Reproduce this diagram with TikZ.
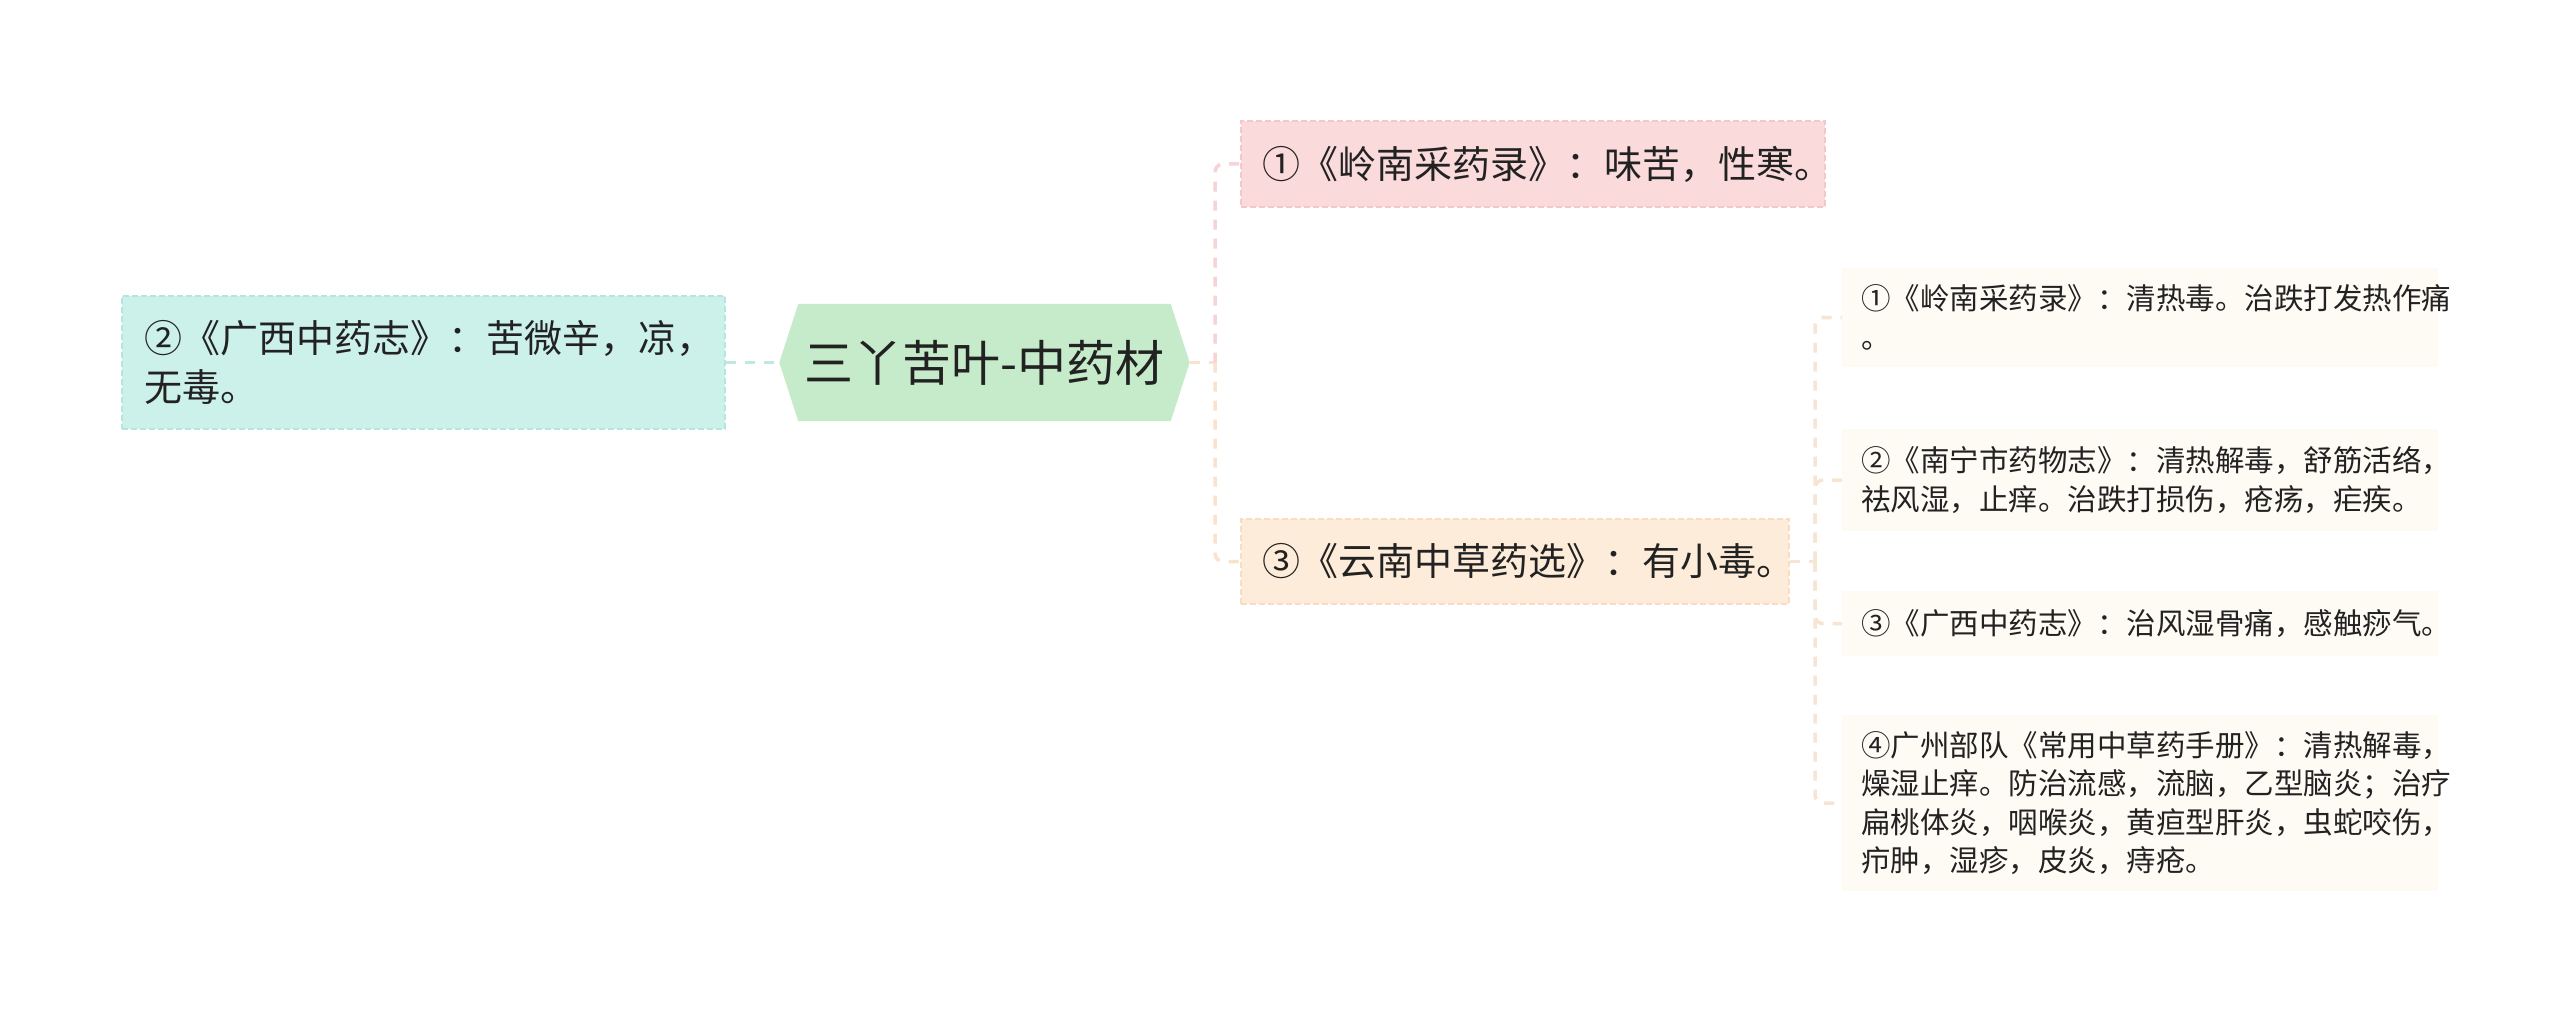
\documentclass[tikz,border=0pt]{standalone}
\usepackage{fontspec}
\setmainfont{Noto Sans CJK SC}
\usetikzlibrary{backgrounds}
\definecolor{txt}{HTML}{222222}
\definecolor{lfill}{HTML}{CCF0EA}
\definecolor{lborder}{HTML}{B5E6DD}
\definecolor{cfill}{HTML}{C6EBCA}
\definecolor{tfill}{HTML}{FADADB}
\definecolor{tborder}{HTML}{F4C8CA}
\definecolor{bfill}{HTML}{FDECDA}
\definecolor{bborder}{HTML}{F8DDC3}
\definecolor{rfill}{HTML}{FEFAF4}
\definecolor{tealline}{HTML}{BDE9E1}
\definecolor{pinkline}{HTML}{F6D3D5}
\definecolor{peachline}{HTML}{FBE2CD}
\definecolor{rline}{HTML}{F5E5D2}
\begin{document}
\begin{tikzpicture}[x=1pt,y=-1pt,
  nbox/.style={rectangle, inner ysep=0pt, align=left, text=txt, anchor=center},
  mainfont/.style={font=\fontsize{38pt}{49pt}\selectfont},
  smallfont/.style={font=\fontsize{29.5pt}{38.5pt}\selectfont},
  boxborder/.style={line width=2pt, dash pattern=on 6pt off 3pt},
  conn/.style={line width=3.5pt, dash pattern=on 10pt off 9pt},
  rbox/.style={nbox, smallfont, fill=rfill, minimum width=596pt, text width=558pt, inner xsep=19pt}
]
\useasboundingbox (0,0) rectangle (2560,1014);

% left node
\node[nbox, mainfont, fill=lfill, draw=lborder, boxborder, minimum width=603pt, minimum height=133pt,
      text width=559pt, inner xsep=22pt] (L) at (423.5,362.5)
  {②《广西中药志》：苦微辛，凉，\\无毒。};

% central node
\node[text=txt, font=\fontsize{49pt}{56pt}\selectfont, minimum width=410pt, minimum height=117pt,
      inner sep=0pt] (C) at (984.5,362.5) {三丫苦叶-中药材};
\begin{scope}[on background layer]
\fill[white] (0,0) rectangle (2560,1014);
\fill[cfill] (C.west) -- ([xshift=19pt]C.north west) -- ([xshift=-19pt]C.north east)
  -- (C.east) -- ([xshift=-19pt]C.south east) -- ([xshift=19pt]C.south west) -- cycle;
\end{scope}

% top node
\node[nbox, mainfont, fill=tfill, draw=tborder, boxborder, minimum width=584pt, minimum height=86pt,
      text width=542pt, inner xsep=21pt] (T) at (1533,164)
  {①《岭南采药录》：味苦，性寒。};

% bottom middle node
\node[nbox, mainfont, fill=bfill, draw=bborder, boxborder, minimum width=548pt, minimum height=85pt,
      text width=506pt, inner xsep=21pt] (B) at (1515,561.5)
  {③《云南中草药选》：有小毒。};

% right nodes
\node[rbox, minimum height=99pt] (R1) at (2140,317.5)
  {①《岭南采药录》：清热毒。治跌打发热作痛\\。};
\node[rbox, minimum height=102pt] (R2) at (2140,480)
  {②《南宁市药物志》：清热解毒，舒筋活络，\\祛风湿，止痒。治跌打损伤，疮疡，疟疾。};
\node[rbox, minimum height=65pt] (R3) at (2140,623.5)
  {③《广西中药志》：治风湿骨痛，感触痧气。};
\node[rbox, minimum height=176pt] (R4) at (2140,803)
  {④广州部队《常用中草药手册》：清热解毒，\\燥湿止痒。防治流感，流脑，乙型脑炎；治疗\\扁桃体炎，咽喉炎，黄疸型肝炎，虫蛇咬伤，\\疖肿，湿疹，皮炎，痔疮。};

% connectors
\draw[conn, tealline] (L.east) -- (C.west);

\coordinate (J1) at (1215,362.5);
\draw[conn, peachline] (C.east) -- (J1);
\draw[conn, pinkline, rounded corners=8pt] (J1) |- (T.west);
\draw[conn, peachline, rounded corners=8pt] (J1) |- (B.west);

\coordinate (J2) at (1815,561.5);
\draw[conn, rline] (B.east) -- (J2);
\foreach \n in {R1,R2,R3,R4}
  \draw[conn, rline, rounded corners=8pt] (J2) |- (\n.west);
\end{tikzpicture}
\end{document}
